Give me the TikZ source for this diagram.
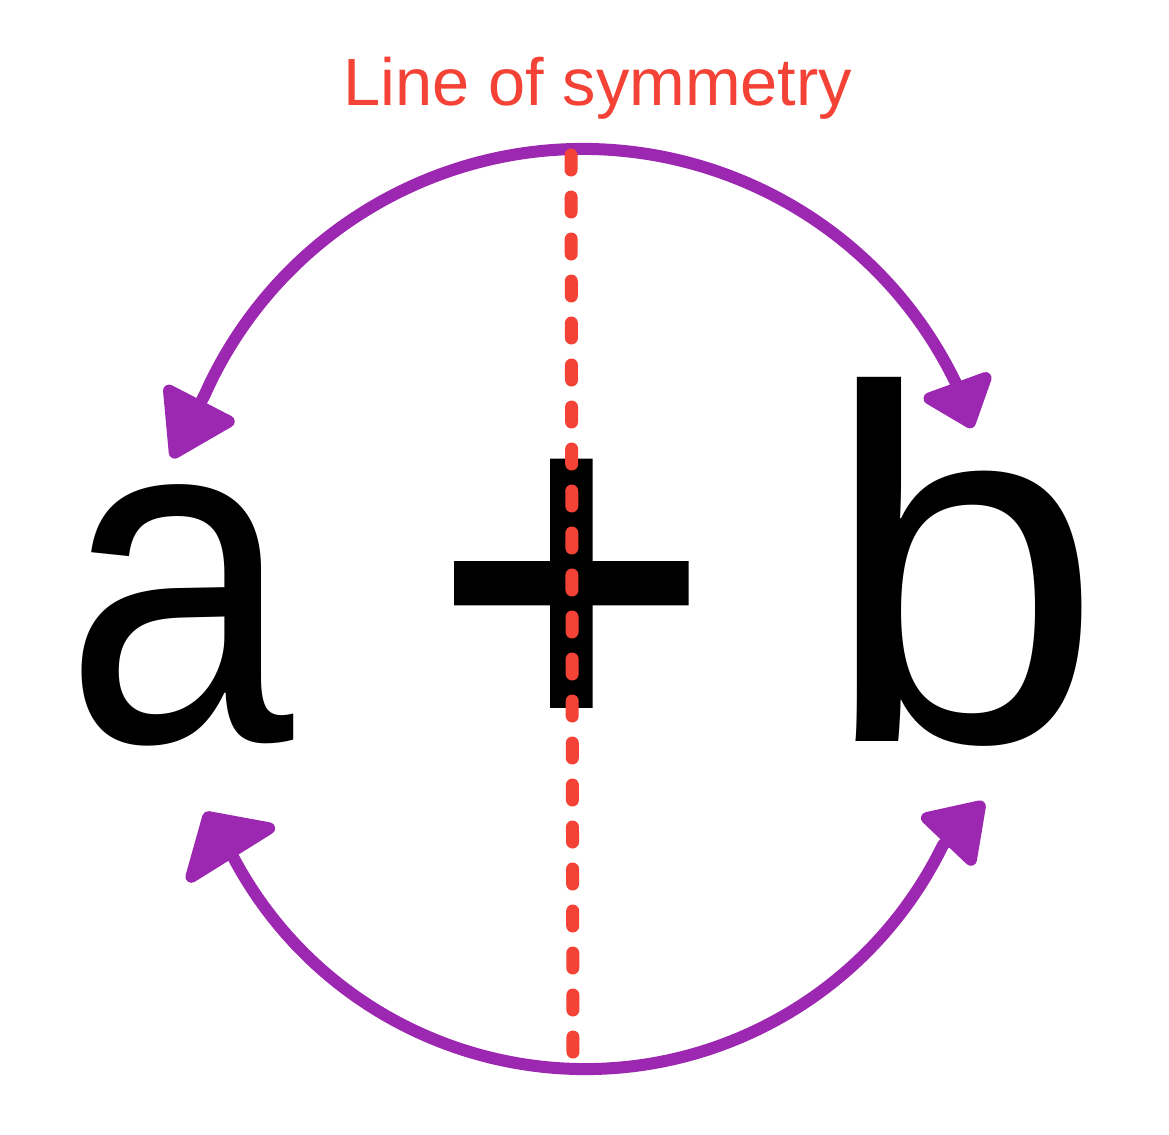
\documentclass[tikz,border=0pt]{standalone}
\usepackage{fontspec}
\setmainfont{Liberation Sans}
\newfontfamily\plusfont[FakeBold=1.95]{Liberation Sans}
\usetikzlibrary{arrows.meta}
\definecolor{symred}{HTML}{F44336}
\definecolor{arcpurple}{HTML}{9C27B0}
\tikzset{
  bigglyph/.style={anchor=base, inner sep=0pt, font=\fontsize{143}{143}\selectfont},
  swaparc/.style={arcpurple, line width=0.12cm, line cap=round, line join=round},
  symline/.style={symred, line width=0.13cm, line cap=round, dash pattern=on 0.15cm off 0.27cm},
}
\begin{document}
\begin{tikzpicture}
\useasboundingbox[fill=white] (0,0) rectangle (11.69,-11.34);
% title
\node[anchor=base, inner sep=0pt, text=symred, font=\fontsize{19}{19}\selectfont] (title) at (5.98,-1.05) {Line of symmetry};
% expression
\node[bigglyph, xscale=0.82, yscale=0.95, transform shape] (a) at (1.79,-7.41) {a};
\node[bigglyph, font=\fontsize{132}{132}\plusfont, yscale=1.055, transform shape] (plus) at (5.715,-7.46) {+};
\node[bigglyph] (b) at (9.63,-7.41) {b};
% centres of the arcs and arrow tips
\coordinate (topc) at (5.83,-5.63);
\coordinate (botc) at (5.85,-6.71);
\coordinate (tipTL) at (1.72,-4.58);
\coordinate (tipTR) at (9.72,-4.28);
\coordinate (tipBL) at (2.05,-8.12);
\coordinate (tipBR) at (9.84,-8.02);
% top arc: b <-> a
\draw[swaparc, {Triangle[length=0.52cm, width=0.82cm, round]}-{Triangle[length=0.70cm, width=0.86cm, round]}]
  (tipTR) -- ([shift={(26:4.14)}]topc) arc[start angle=26, end angle=156, radius=4.14] -- (tipTL);
% bottom arc: a <-> b
\draw[swaparc, {Triangle[length=0.56cm, width=1.2cm, round]}-{Triangle[length=0.62cm, width=0.8cm, round]}]
  (tipBL) -- ([shift={(208:3.98)}]botc) arc[start angle=208, end angle=334, radius=3.98] -- (tipBR);
% line of symmetry
\coordinate (symtop) at (5.71,-1.55);
\coordinate (symbot) at (5.73,-10.62);
\draw[symline] (symtop) -- (symbot);
\end{tikzpicture}
\end{document}
